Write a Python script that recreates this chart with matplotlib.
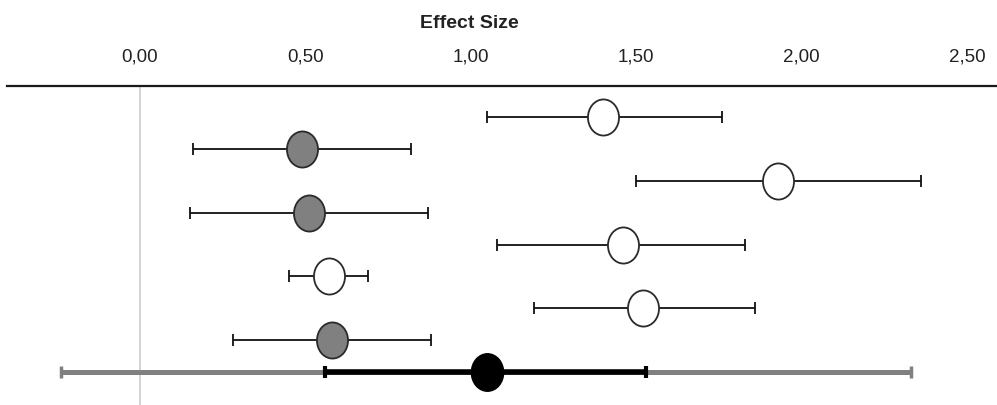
import numpy as np
import matplotlib
matplotlib.use("Agg")
import matplotlib.pyplot as plt
from matplotlib.path import Path
from matplotlib.ticker import FuncFormatter

plt.rcParams['font.family'] = ['Liberation Sans', 'DejaVu Sans']

# study rows, top to bottom
effect = [1.40, 0.49, 1.93, 0.51, 1.46, 0.57, 1.52, 0.58]
lower = [1.05, 0.16, 1.50, 0.15, 1.08, 0.45, 1.19, 0.28]
upper = [1.76, 0.82, 2.36, 0.87, 1.83, 0.69, 1.86, 0.88]
fills = ['white', 'gray', 'white', 'gray', 'white', 'white', 'white', 'gray']

# pooled estimate
summary_es = 1.05
summary_ci = [0.56, 1.53]
summary_pi = [-0.24, 2.33]

ticks = [0.0, 0.5, 1.0, 1.5, 2.0, 2.5]

fill_colors = {'white': '#ffffff', 'gray': '#808080'}

# slightly tall ellipse like the excel markers
circ = Path.unit_circle()
ellipse = Path(circ.vertices * np.array([0.86, 1.0]), circ.codes)


def fmt_comma(v, pos):
    return f"{v:.2f}".replace('.', ',')


def main():
    fig = plt.figure(figsize=(9.97, 4.05), dpi=100)
    ax = fig.add_axes([7 / 997, 0, 990 / 997, 319 / 405])

    n = len(effect)
    ys = np.arange(n)
    eff = np.array(effect)
    lo = np.array(lower)
    hi = np.array(upper)

    ax.axvline(0, color='#c8c8c8', lw=1.1, zorder=0)

    ax.errorbar(eff, ys, xerr=[eff - lo, hi - eff], fmt='none',
                ecolor='#111111', elinewidth=1.3, capsize=4.3, capthick=1.3, zorder=2)
    for x, y, f in zip(eff, ys, fills):
        ax.plot(x, y, marker=ellipse, ms=26, mfc=fill_colors[f],
                mec='#2a2a2a', mew=1.3, ls='none', zorder=3)

    # summary row
    ys_sum = n
    ax.errorbar(summary_es, ys_sum,
                xerr=[[summary_es - summary_pi[0]], [summary_pi[1] - summary_es]],
                fmt='none', ecolor='#808080', elinewidth=3.6, capsize=4.5,
                capthick=2.5, zorder=2)
    ax.errorbar(summary_es, ys_sum,
                xerr=[[summary_es - summary_ci[0]], [summary_ci[1] - summary_es]],
                fmt='none', ecolor='black', elinewidth=4.0, capsize=4.0,
                capthick=3.0, zorder=3)
    ax.plot(summary_es, ys_sum, marker=ellipse, ms=27, mfc='black',
            mec='black', ls='none', zorder=4)

    ax.set_xlim(-0.402, 2.591)
    ax.set_ylim(9.03, -0.97)

    ax.set_xticks(ticks)
    ax.xaxis.set_major_formatter(FuncFormatter(fmt_comma))
    ax.xaxis.tick_top()
    ax.tick_params(axis='x', length=0, pad=15, labelsize=13.5, labelcolor='#222222')
    ax.set_yticks([])

    for side in ['left', 'right', 'bottom']:
        ax.spines[side].set_visible(False)
    ax.spines['top'].set_linewidth(1.6)
    ax.spines['top'].set_color('#1a1a1a')

    fig.text(469 / 997, 1 - 23 / 405, "Effect Size", ha='center', va='center',
             fontsize=14, fontweight='bold', color='#222222')

    fig.savefig("out.png", dpi=100)
    plt.close(fig)


if __name__ == "__main__":
    main()
